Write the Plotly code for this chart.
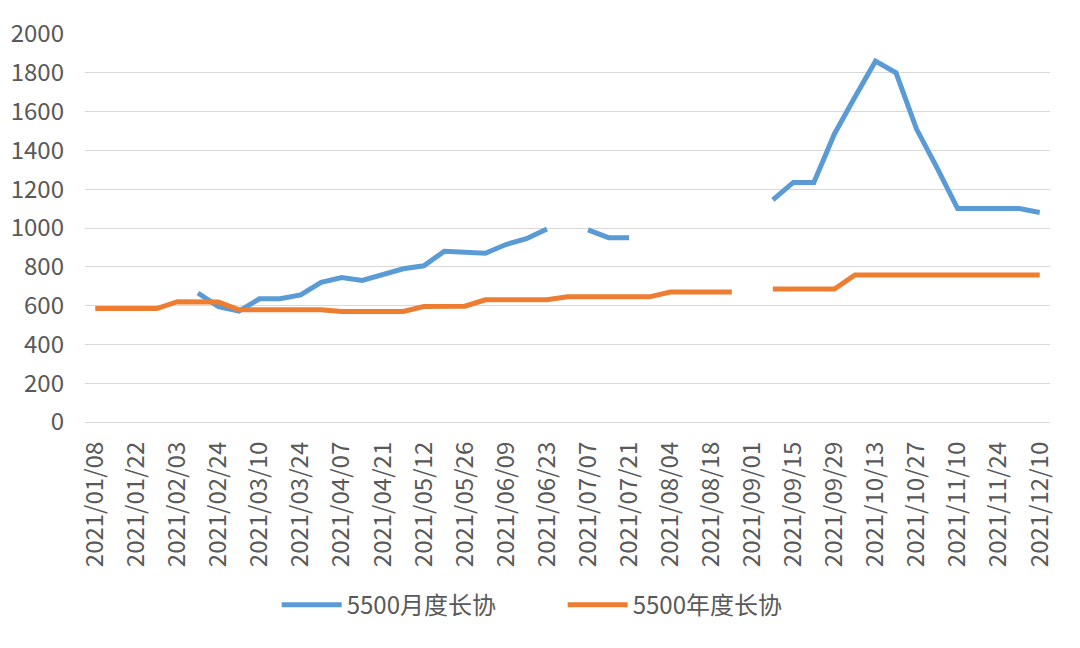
import plotly.graph_objects as go

dates = [
    "2021/01/08", "2021/01/15", "2021/01/22", "2021/01/29", "2021/02/03", "2021/02/10",
    "2021/02/24", "2021/03/03", "2021/03/10", "2021/03/17", "2021/03/24", "2021/03/31",
    "2021/04/07", "2021/04/14", "2021/04/21", "2021/04/28", "2021/05/12", "2021/05/19",
    "2021/05/26", "2021/06/02", "2021/06/09", "2021/06/16", "2021/06/23", "2021/06/30",
    "2021/07/07", "2021/07/14", "2021/07/21", "2021/07/28", "2021/08/04", "2021/08/11",
    "2021/08/18", "2021/08/25", "2021/09/01", "2021/09/08", "2021/09/15", "2021/09/22",
    "2021/09/29", "2021/10/08", "2021/10/13", "2021/10/20", "2021/10/27", "2021/11/03",
    "2021/11/10", "2021/11/17", "2021/11/24", "2021/12/01", "2021/12/10",
]

monthly = [
    None, None, None, None, None, 665,
    595, 572, 635, 635, 655, 720,
    745, 730, 760, 790, 805, 880,
    875, 870, 915, 945, 995, None,
    990, 950, 950, None, None, None,
    None, None, None, 1145, 1235, 1235,
    1485, 1675, 1860, 1800, 1510, 1310,
    1100, 1100, 1100, 1100, 1080,
]

annual = [
    585, 585, 585, 585, 620, 620,
    618, 578, 578, 578, 578, 578,
    570, 570, 570, 570, 595, 597,
    597, 630, 630, 630, 630, 645,
    645, 645, 645, 645, 670, 670,
    670, 670, None, 685, 685, 685,
    685, 758, 758, 758, 758, 758,
    758, 758, 758, 758, 758,
]

tick_labels = dates[::2]

font_family = "Noto Sans CJK SC, Noto Sans, sans-serif"
text_color = "#595959"
grid_color = "#d9d9d9"

fig = go.Figure()
fig.add_trace(go.Scatter(
    x=dates, y=monthly, mode="lines", name="5500月度长协",
    line=dict(color="#5B9BD5", width=5), connectgaps=False,
))
fig.add_trace(go.Scatter(
    x=dates, y=annual, mode="lines", name="5500年度长协",
    line=dict(color="#ED7D31", width=5), connectgaps=False,
))

fig.update_layout(
    width=1080, height=648,
    margin=dict(l=77, r=38, t=26, b=234, autoexpand=False),
    paper_bgcolor="white", plot_bgcolor="white",
    font=dict(family=font_family, color=text_color, size=20),
    showlegend=True,
    legend=dict(
        orientation="h", x=0.495, xanchor="center", y=-0.472, yanchor="middle",
        font=dict(size=24, color=text_color), itemwidth=60,
        entrywidth=211, entrywidthmode="pixels",
        traceorder="normal", tracegroupgap=0,
    ),
    xaxis=dict(
        type="category", categoryorder="array", categoryarray=dates,
        range=[-0.5, len(dates) - 0.5], automargin=False,
        tickmode="array", tickvals=tick_labels, ticktext=tick_labels,
        tickangle=-90, showgrid=False, showline=False, zeroline=False,
        ticks="", ticklabelstandoff=14,
        tickfont=dict(size=24, color=text_color),
    ),
    yaxis=dict(
        range=[0, 2000], dtick=200, tick0=0, automargin=False,
        showgrid=True, gridcolor=grid_color, gridwidth=1.2,
        zeroline=True, zerolinecolor=grid_color, zerolinewidth=1.2,
        showline=False, ticks="", ticklabelstandoff=20,
        tickfont=dict(size=24, color=text_color),
    ),
)

fig.write_html("out.html")
